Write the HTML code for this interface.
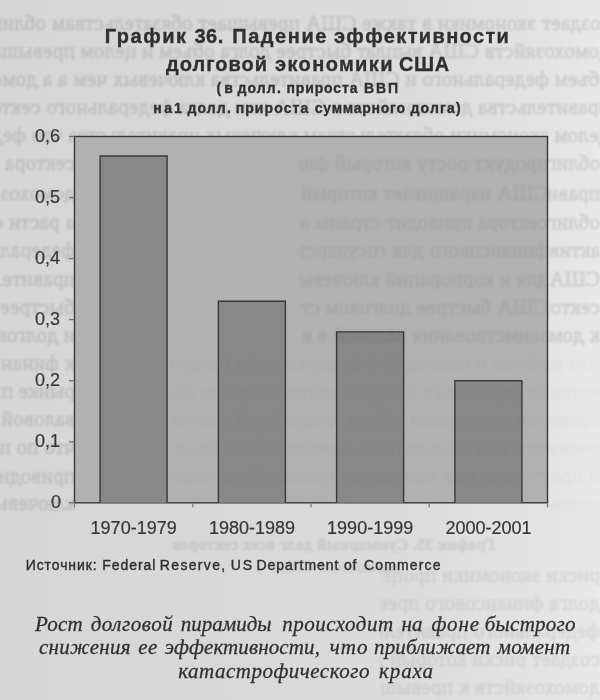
<!DOCTYPE html>
<html><head><meta charset="utf-8">
<style>
html,body{margin:0;padding:0;}
body{width:600px;height:700px;position:relative;overflow:hidden;background:linear-gradient(90deg,#d6d6d6 0%,#d8d8d8 35%,#dcdcdc 70%,#e4e4e4 92%,#e8e8e8 100%);color:#303030;}
.c{position:absolute;left:0;top:0;width:600px;height:700px;filter:blur(0.35px);}
.w{position:absolute;white-space:nowrap;line-height:1;}
.sb{font-family:"Liberation Sans",sans-serif;font-weight:bold;-webkit-text-stroke:0.35px #303030;}
.sr{font-family:"Liberation Sans",sans-serif;-webkit-text-stroke:0.4px #303030;}
.it{font-family:"Liberation Serif",serif;font-style:italic;-webkit-text-stroke:0.3px #303030;}
.l{position:absolute;font-family:"Liberation Sans",sans-serif;font-size:18px;line-height:1;white-space:nowrap;color:#363636;-webkit-text-stroke:0.2px #363636;}
.stl{position:absolute;left:0;top:0;width:600px;height:700px;overflow:hidden;}
.st{position:absolute;left:-10px;width:620px;overflow:hidden;white-space:nowrap;font-family:"Liberation Serif",serif;font-size:21px;line-height:1;color:rgba(0,0,0,0.075);transform:scaleX(-1);letter-spacing:0.3px;filter:blur(1.3px);-webkit-text-stroke:1px rgba(0,0,0,0.075);}
</style></head><body>
<div class="stl"><div class="st" style="top:13px">создает экономики в также США превышает обязательствам облигаций финансовой</div><div class="st" style="top:41px">домохозяйств США выплат быстрее долга объем и целом превышает валовой</div><div class="st" style="top:69px">объем федерального и США правительства ключевых чем а а домохозяйств США</div><div class="st" style="top:97px">правительства домохозяйств в США чем долга федерального секторов страны</div><div class="st" style="top:125px">целом экономики обязательствам ключевых правительства что федерального</div><div class="st" style="top:153px;left:0;width:75px">сектора продолжает</div><div class="st" style="top:153px;left:548px;width:52px">облигаций</div><div class="st" style="top:183px;left:0;width:75px">домохозяйств</div><div class="st" style="top:183px;left:548px;width:52px">правительства</div><div class="st" style="top:212px;left:0;width:75px">а расти финансовой</div><div class="st" style="top:212px;left:548px;width:52px">облигаций</div><div class="st" style="top:240px;left:0;width:75px">федерального</div><div class="st" style="top:240px;left:548px;width:52px">активно превышает</div><div class="st" style="top:269px;left:0;width:75px">правительства</div><div class="st" style="top:269px;left:548px;width:52px">США корпораций</div><div class="st" style="top:297px;left:0;width:75px">быстрее процентных</div><div class="st" style="top:297px;left:548px;width:52px">сектора обязательствам</div><div class="st" style="top:325px;left:0;width:75px">и долговом создает</div><div class="st" style="top:325px;left:548px;width:52px">к домохозяйств</div><div class="st" style="top:353px;left:0;width:75px">к финансовой</div><div class="st" style="top:353px;left:548px;width:52px;opacity:0.2">что валовой</div><div class="st" style="top:381px;left:0;width:75px">рынке продолжает</div><div class="st" style="top:381px;left:548px;width:52px;opacity:0.2">который долговом</div><div class="st" style="top:409px;left:0;width:75px">валовой объем</div><div class="st" style="top:409px;left:548px;width:52px;opacity:0.2">правительства</div><div class="st" style="top:437px;left:0;width:75px">что по процентных</div><div class="st" style="top:437px;left:548px;width:52px;opacity:0.2">риски наращивает</div><div class="st" style="top:466px;left:0;width:75px">приводит страны</div><div class="st" style="top:466px;left:548px;width:52px;opacity:0.2">и превышает</div><div class="st" style="top:493px;left:0;width:75px">ключевых выплат</div><div class="st" style="top:493px;left:548px;width:52px;opacity:0.2">целом и на</div><div class="st" style="top:565px;left:380px;width:220px;opacity:0.6">риски экономики процентных целом</div><div class="st" style="top:593px;left:380px;width:220px;opacity:0.6">долга финансового превышает на</div><div class="st" style="top:621px;left:380px;width:220px;opacity:0.6">федерального правительства рынке</div><div class="st" style="top:649px;left:380px;width:220px;opacity:0.6">создает риски который для и процентных</div><div class="st" style="top:677px;left:380px;width:220px;opacity:0.6">домохозяйств к превышает объем</div><div class="st" style="top:537px;font-weight:bold;font-size:16px;left:150px;width:345px;opacity:0.7">График 35. Суммарный долг всех секторов</div><div class="st" style="top:559px;font-weight:bold;font-size:16px;left:240px;width:160px;opacity:0.5">экономики США</div></div>
<div class="c">
<svg width="600" height="700" style="position:absolute;left:0;top:0">
<rect x="74.5" y="136.5" width="473.0" height="366.3" fill="#b1b1b1" stroke="#383838" stroke-width="1.4"/>
<path d="M100.1 502.8 V156.0 H167.1 V502.8" fill="#888888" stroke="#383838" stroke-width="1.4"/>
<path d="M218.4 502.8 V301.3 H285.4 V502.8" fill="#888888" stroke="#383838" stroke-width="1.4"/>
<path d="M336.6 502.8 V331.9 H403.6 V502.8" fill="#888888" stroke="#383838" stroke-width="1.4"/>
<path d="M454.9 502.8 V380.7 H521.9 V502.8" fill="#888888" stroke="#383838" stroke-width="1.4"/>
<line x1="69" y1="502.8" x2="74.5" y2="502.8" stroke="#707070" stroke-width="1.3"/>
<line x1="69" y1="441.8" x2="74.5" y2="441.8" stroke="#707070" stroke-width="1.3"/>
<line x1="69" y1="380.7" x2="74.5" y2="380.7" stroke="#707070" stroke-width="1.3"/>
<line x1="69" y1="319.6" x2="74.5" y2="319.6" stroke="#707070" stroke-width="1.3"/>
<line x1="69" y1="258.6" x2="74.5" y2="258.6" stroke="#707070" stroke-width="1.3"/>
<line x1="69" y1="197.6" x2="74.5" y2="197.6" stroke="#707070" stroke-width="1.3"/>
<line x1="69" y1="136.5" x2="74.5" y2="136.5" stroke="#707070" stroke-width="1.3"/>
<line x1="74.5" y1="502.8" x2="74.5" y2="507.5" stroke="#808080" stroke-width="1.3"/>
<line x1="192.8" y1="502.8" x2="192.8" y2="507.5" stroke="#808080" stroke-width="1.3"/>
<line x1="311.0" y1="502.8" x2="311.0" y2="507.5" stroke="#808080" stroke-width="1.3"/>
<line x1="429.2" y1="502.8" x2="429.2" y2="507.5" stroke="#808080" stroke-width="1.3"/>
<line x1="547.5" y1="502.8" x2="547.5" y2="507.5" stroke="#808080" stroke-width="1.3"/>
</svg>
<div class="l" style="left:51px;top:492.8px">0</div>
<div class="l" style="left:35px;top:431.8px">0,1</div>
<div class="l" style="left:35px;top:370.7px">0,2</div>
<div class="l" style="left:35px;top:309.6px">0,3</div>
<div class="l" style="left:35px;top:248.6px">0,4</div>
<div class="l" style="left:35px;top:187.6px">0,5</div>
<div class="l" style="left:35px;top:126.5px">0,6</div>
<div class="l" style="left:90.6px;top:519px">1970-1979</div>
<div class="l" style="left:208.9px;top:519px">1980-1989</div>
<div class="l" style="left:327.1px;top:519px">1990-1999</div>
<div class="l" style="left:445.4px;top:519px">2000-2001</div>
<div class="w sb" style="left:104.8px;top:25.9px;font-size:20px;letter-spacing:1.5px">График</div>
<div class="w sb" style="left:194.6px;top:25.9px;font-size:20px;letter-spacing:0.4px">36.</div>
<div class="w sb" style="left:232.2px;top:25.9px;font-size:20px;letter-spacing:1.567px">Падение</div>
<div class="w sb" style="left:333.9px;top:25.9px;font-size:20px;letter-spacing:1.367px">эффективности</div>
<div class="w sb" style="left:166.0px;top:53.7px;font-size:20px;letter-spacing:1.029px">долговой</div>
<div class="w sb" style="left:275.1px;top:53.7px;font-size:20px;letter-spacing:1.362px">экономики</div>
<div class="w sb" style="left:399.0px;top:53.7px;font-size:20px;letter-spacing:0.65px">США</div>
<div class="w sb" style="left:216.5px;top:81.3px;font-size:14px;letter-spacing:3.0px">(в</div>
<div class="w sb" style="left:237.5px;top:81.3px;font-size:14px;letter-spacing:1.125px">долл.</div>
<div class="w sb" style="left:286.5px;top:81.3px;font-size:14px;letter-spacing:0.857px">прироста</div>
<div class="w sb" style="left:364.0px;top:81.3px;font-size:14px;letter-spacing:1.85px">ВВП</div>
<div class="w sb" style="left:153.2px;top:100.6px;font-size:14px;letter-spacing:2.5px">на</div>
<div class="w sb" style="left:174.0px;top:100.6px;font-size:14px;letter-spacing:1.5px">1</div>
<div class="w sb" style="left:187.5px;top:100.6px;font-size:14px;letter-spacing:1.125px">долл.</div>
<div class="w sb" style="left:235.7px;top:100.6px;font-size:14px;letter-spacing:1.086px">прироста</div>
<div class="w sb" style="left:314.8px;top:100.6px;font-size:14px;letter-spacing:0.756px">суммарного</div>
<div class="w sb" style="left:410.4px;top:100.6px;font-size:14px;letter-spacing:1.22px">долга)</div>
<div class="w sr" style="left:25.7px;top:557.7px;font-size:14px;letter-spacing:0.912px">Источник:</div>
<div class="w sr" style="left:102.3px;top:557.7px;font-size:14px;letter-spacing:0.95px">Federal</div>
<div class="w sr" style="left:159.8px;top:557.7px;font-size:14px;letter-spacing:1.343px">Reserve,</div>
<div class="w sr" style="left:230.7px;top:557.7px;font-size:14px;letter-spacing:2.0px">US</div>
<div class="w sr" style="left:256.5px;top:557.7px;font-size:14px;letter-spacing:0.978px">Department</div>
<div class="w sr" style="left:344.0px;top:557.7px;font-size:14px;letter-spacing:0.7px">of</div>
<div class="w sr" style="left:364.0px;top:557.7px;font-size:14px;letter-spacing:1.143px">Commerce</div>
<div class="w it" style="left:35.0px;top:614.1px;font-size:21px;letter-spacing:0.233px">Рост</div>
<div class="w it" style="left:90.7px;top:614.1px;font-size:21px;letter-spacing:0.543px">долговой</div>
<div class="w it" style="left:180.7px;top:614.1px;font-size:21px;letter-spacing:0.014px">пирамиды</div>
<div class="w it" style="left:282.3px;top:614.1px;font-size:21px;letter-spacing:0.489px">происходит</div>
<div class="w it" style="left:401.5px;top:614.1px;font-size:21px;letter-spacing:0.2px">на</div>
<div class="w it" style="left:431.5px;top:614.1px;font-size:21px;letter-spacing:0.933px">фоне</div>
<div class="w it" style="left:484.8px;top:614.1px;font-size:21px;letter-spacing:0.243px">быстрого</div>
<div class="w it" style="left:39.0px;top:637.4px;font-size:21px;letter-spacing:0.286px">снижения</div>
<div class="w it" style="left:138.2px;top:637.4px;font-size:21px;letter-spacing:0.5px">ее</div>
<div class="w it" style="left:164.8px;top:637.4px;font-size:21px;letter-spacing:0.115px">эффективности,</div>
<div class="w it" style="left:329.8px;top:637.4px;font-size:21px;letter-spacing:0.95px">что</div>
<div class="w it" style="left:374.0px;top:637.4px;font-size:21px;letter-spacing:0.133px">приближает</div>
<div class="w it" style="left:497.5px;top:637.4px;font-size:21px;letter-spacing:0.24px">момент</div>
<div class="w it" style="left:178.2px;top:660.5px;font-size:21px;letter-spacing:0.5px">катастрофического</div>
<div class="w it" style="left:379.0px;top:660.5px;font-size:21px;letter-spacing:0.925px">краха</div>
</div>
<div class="stl" style="mix-blend-mode:multiply"><div class="st" style="top:153px;left:300px;width:248px;opacity:0.5">продукт росту который финансового превышает</div><div class="st" style="top:183px;left:300px;width:248px;opacity:0.5">США наращивает который что также правительства</div><div class="st" style="top:212px;left:300px;width:248px;opacity:0.5">сектора приводит страны активно системы</div><div class="st" style="top:240px;left:300px;width:248px;opacity:0.5">финансового для государственного к</div><div class="st" style="top:269px;left:300px;width:248px;opacity:0.5">для и корпораций ключевых процентных</div><div class="st" style="top:297px;left:300px;width:248px;opacity:0.5">США быстрее долговом страны секторов</div><div class="st" style="top:325px;left:300px;width:248px;opacity:0.5">заимствования валовой в в процентных</div><div class="st" style="top:353px;left:170px;width:378px;opacity:0.2">объем и приводит в федерального продукт секторов и</div><div class="st" style="top:381px;left:170px;width:378px;opacity:0.2">федерального продукт активно целом для сектора системы</div><div class="st" style="top:409px;left:170px;width:378px;opacity:0.2">чем экономики объем продолжает экономики чем финансового</div><div class="st" style="top:437px;left:170px;width:378px;opacity:0.2">чем ния процентных домохозяйств продолжает внутренний</div><div class="st" style="top:466px;left:170px;width:378px;opacity:0.2">страны ния экономики целом обязательствам финансовой</div></div>
</body></html>
